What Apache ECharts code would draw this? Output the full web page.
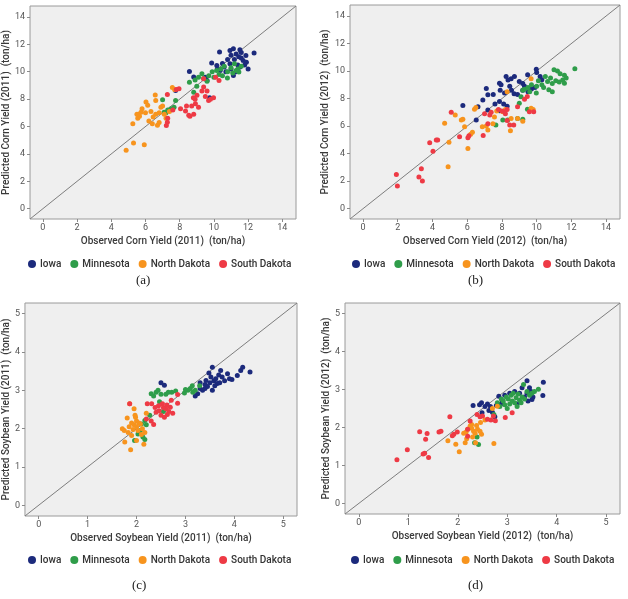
<!DOCTYPE html>
<html><head><meta charset="utf-8">
<script src="https://cdn.jsdelivr.net/npm/echarts@6/dist/echarts.min.js"></script>
<style>html,body{margin:0;padding:0;background:#fff}#c{width:628px;height:599px}</style>
</head><body><div id="c"></div>
<script>
// ---------- data ----------
const states = ['Iowa', 'Minnesota', 'North Dakota', 'South Dakota'];
const cornTicks = [0, 2, 4, 6, 8, 10, 12, 14];
const soyTicks = [0, 1, 2, 3, 4, 5];
const cornRange = [-0.75, 14.8];
const soyRange = [-0.28, 5.28];

// (a) Corn 2011  [observed, predicted]
const corn2011Iowa = [[8.57,10.02],[8.82,9.61],[7.76,8.64],[9.75,8.1],[9.6,9.37],[9.5,9.6],[9.87,10.63],[10.17,10.46],[10.33,11.44],[10.37,10.1],[10.6,10.34],[10.7,10.0],[10.94,10.58],[10.94,11.56],[11.0,11.2],[11.14,11.68],[11.14,9.73],[11.2,10.9],[11.3,11.3],[11.4,10.5],[11.52,11.6],[11.52,10.34],[11.6,11.0],[11.71,10.83],[11.87,11.19],[11.9,10.7],[12.0,10.2],[12.35,11.36],[11.0,10.2],[10.8,10.9],[11.6,11.4],[11.8,10.5],[10.5,10.6],[11.3,10.0],[11.45,11.1],[10.2,10.2]];
const corn2011Minnesota = [[7.0,7.96],[7.09,7.05],[7.3,7.2],[7.67,7.4],[7.76,7.9],[7.5,7.3],[7.2,7.0],[8.57,9.24],[8.82,8.5],[9.0,8.95],[9.1,9.6],[9.3,9.85],[9.4,9.5],[9.7,9.7],[9.9,10.0],[10.0,9.6],[10.16,10.1],[10.4,10.2],[10.6,10.4],[10.8,10.0],[11.0,10.3],[11.2,10.58],[11.4,10.2],[11.1,9.9],[10.79,9.54],[11.46,9.98],[11.6,10.4],[10.3,9.8],[9.6,9.3],[8.9,9.4],[10.5,9.7],[11.3,10.1]];
const corn2011NorthDakota = [[4.87,4.26],[5.3,4.79],[5.93,4.67],[5.26,6.2],[5.55,6.6],[5.65,6.75],[5.74,7.05],[5.6,6.9],[6.03,7.8],[6.13,7.55],[6.57,8.3],[6.6,7.9],[6.32,7.1],[6.45,6.7],[6.8,6.3],[6.7,6.1],[6.4,6.2],[7.1,6.9],[7.4,7.1],[7.57,8.85],[7.7,8.7],[6.9,7.4],[7.2,6.6],[6.0,7.0],[5.8,7.3],[6.2,6.4],[7.0,7.5],[6.8,7.0],[5.5,6.9],[6.6,6.9]];
const corn2011SouthDakota = [[7.28,8.34],[7.8,8.71],[7.96,8.75],[7.28,6.32],[7.22,6.08],[7.3,6.6],[8.05,7.3],[8.34,7.13],[8.53,6.83],[8.82,6.9],[8.6,6.75],[8.92,7.66],[8.7,7.5],[9.01,8.28],[8.9,8.0],[9.4,8.88],[9.3,8.6],[9.6,8.6],[9.69,7.9],[9.98,8.1],[9.8,8.0],[9.4,9.49],[10.3,9.37],[10.1,9.6],[9.1,7.4],[8.8,8.1],[7.6,7.2],[8.4,7.5],[9.5,8.2]];

// (b) Corn 2012
const corn2012Iowa = [[5.75,7.49],[6.52,6.45],[6.62,7.4],[6.9,7.9],[7.1,8.73],[7.19,8.27],[7.19,7.17],[7.5,8.3],[7.6,7.6],[7.86,9.12],[7.95,9.0],[7.9,8.6],[8.15,8.4],[8.24,9.61],[8.35,9.35],[8.53,9.45],[8.72,9.61],[8.45,8.9],[8.55,8.6],[8.7,8.35],[7.86,7.78],[8.1,7.6],[8.3,7.45],[7.86,7.12],[9.0,9.24],[9.2,9.1],[9.3,8.9],[9.48,9.73],[9.98,10.14],[10.0,9.9],[10.3,9.36],[9.7,8.7],[9.9,8.8],[9.5,8.5],[8.9,8.3],[10.2,9.6],[9.2,8.6]];
const corn2012Minnesota = [[7.65,6.08],[8.05,6.45],[8.33,6.45],[8.9,6.55],[9.2,6.49],[9.47,7.22],[9.0,7.66],[9.1,8.14],[9.2,8.6],[9.3,8.68],[9.6,8.5],[9.98,8.4],[10.0,8.9],[10.3,9.0],[10.4,8.8],[10.63,9.24],[10.7,8.64],[10.9,8.5],[11.0,10.1],[11.2,10.0],[11.35,9.8],[11.6,9.7],[11.7,9.5],[11.6,9.12],[12.2,10.16],[11.1,9.3],[11.3,9.2],[10.5,9.6],[10.8,9.5],[10.1,9.3],[9.7,9.0],[9.5,8.8],[11.5,9.35],[10.9,9.1]];
const corn2012NorthDakota = [[4.7,6.2],[4.9,3.04],[4.95,4.83],[5.31,6.81],[5.66,6.45],[5.75,6.5],[5.85,5.96],[6.04,4.37],[6.3,5.56],[6.2,5.4],[6.42,7.22],[6.5,7.35],[6.87,5.96],[7.19,5.71],[7.48,6.18],[7.57,6.66],[7.7,7.1],[8.05,7.04],[8.2,7.2],[8.49,5.67],[8.53,6.56],[8.9,6.56],[9.2,6.36],[9.68,7.3],[9.8,7.2],[9.68,9.44],[7.1,6.0],[8.3,8.5]];
const corn2012SouthDakota = [[1.92,2.48],[1.98,1.65],[3.22,2.31],[3.36,2.91],[3.42,2.02],[3.84,4.79],[4.22,4.99],[4.3,4.99],[4.03,4.18],[5.08,7.0],[5.56,5.22],[6.04,5.16],[6.1,5.3],[6.92,5.31],[7.19,6.18],[7.3,6.8],[7.38,7.0],[8.0,7.1],[8.15,7.05],[8.3,7.2],[8.2,6.9],[8.45,6.08],[8.68,6.08],[8.3,6.4],[8.9,7.4],[9.3,7.95],[9.58,7.05],[9.83,7.05],[9.46,8.15],[7.0,6.9],[7.8,7.2]];

// (c) Soybean 2011
const soy2011Iowa = [[2.5,3.2],[2.57,3.13],[3.2,2.85],[3.25,2.91],[3.3,3.05],[3.35,3.0],[3.4,3.15],[3.42,3.26],[3.45,3.1],[3.5,3.2],[3.55,3.6],[3.48,3.45],[3.52,3.35],[3.58,3.25],[3.62,3.3],[3.65,3.18],[3.7,3.2],[3.72,3.52],[3.75,3.35],[3.8,3.25],[3.86,3.43],[3.9,3.3],[3.95,3.28],[4.06,3.39],[4.13,3.52],[4.17,3.6],[4.32,3.48],[3.6,3.12],[3.4,3.05],[3.3,3.2],[3.55,3.0],[3.68,3.4]];
const soy2011Minnesota = [[1.96,1.69],[2.03,1.86],[2.13,1.78],[2.17,1.72],[2.1,2.12],[2.17,2.21],[2.2,2.1],[2.27,2.35],[2.3,2.91],[2.35,2.85],[2.4,2.95],[2.44,3.0],[2.5,2.9],[2.6,2.9],[2.65,2.95],[2.72,2.95],[2.8,2.98],[2.98,2.93],[3.05,3.0],[3.1,3.05],[3.14,3.12],[3.2,3.0],[3.29,3.12],[3.15,2.95],[2.47,2.7],[2.55,2.45],[2.08,1.95],[3.0,3.02]];
const soy2011NorthDakota = [[1.88,1.45],[1.76,1.65],[1.71,2.0],[1.75,1.95],[1.81,2.28],[1.86,2.65],[1.95,2.52],[1.97,2.35],[2.0,2.2],[1.95,2.1],[2.0,2.05],[2.05,2.15],[2.08,2.12],[2.0,1.69],[2.1,1.85],[2.15,1.59],[2.17,1.9],[1.9,1.82],[1.83,1.9],[1.85,2.05],[1.9,2.15],[1.93,1.98],[2.03,1.95],[2.12,2.0],[1.98,2.3],[2.2,2.4]];
const soy2011SouthDakota = [[1.86,2.65],[2.22,2.65],[2.31,2.65],[2.35,2.11],[2.4,2.43],[2.46,2.47],[2.53,2.65],[2.6,2.52],[2.5,2.35],[2.57,2.3],[2.63,2.37],[2.66,2.45],[2.69,2.56],[2.84,2.66],[2.84,2.89],[2.71,2.74],[2.45,2.6],[2.38,2.55],[2.74,2.4],[2.2,2.25],[2.55,2.55],[2.62,2.62],[2.3,2.2]];

// (d) Soybean 2012
const soy2012Iowa = [[2.31,2.58],[2.44,2.6],[2.48,2.65],[2.55,2.55],[2.6,2.62],[2.63,2.45],[2.66,2.55],[2.49,2.39],[2.7,2.4],[2.75,2.28],[2.83,2.82],[2.87,2.62],[2.95,2.85],[3.05,2.9],[3.15,2.95],[3.25,2.9],[3.3,3.05],[3.4,3.23],[3.45,3.05],[3.4,2.9],[3.48,2.95],[3.52,2.8],[3.5,2.74],[3.73,3.19],[3.72,2.84],[3.42,2.7],[3.2,2.62],[2.9,2.7],[3.35,2.8],[2.78,2.58]];
const soy2012Minnesota = [[2.39,1.75],[2.42,1.55],[2.34,1.6],[2.73,2.34],[2.8,2.65],[2.85,2.55],[2.88,2.75],[2.92,2.7],[2.95,2.6],[2.98,2.8],[3.02,2.75],[3.05,2.62],[3.08,2.85],[3.1,2.7],[3.12,2.9],[3.15,2.65],[3.18,2.78],[3.2,2.55],[3.22,2.88],[3.25,2.72],[3.3,2.8],[3.33,3.13],[3.35,2.75],[3.4,2.95],[3.45,2.85],[3.5,2.9],[3.55,2.95],[3.63,3.01],[3.0,2.5],[3.28,2.65]];
const soy2012NorthDakota = [[1.8,1.65],[1.96,1.56],[2.03,1.36],[2.15,1.6],[2.18,1.7],[2.25,2.04],[2.28,2.08],[2.17,1.88],[2.2,1.95],[2.32,1.9],[2.35,1.85],[2.38,2.05],[2.4,1.95],[2.46,2.13],[2.48,1.82],[2.45,1.9],[2.36,1.6],[2.3,1.75],[2.73,1.58],[2.8,2.56],[2.7,2.5],[2.55,2.2],[2.28,1.98],[2.12,1.85]];
const soy2012SouthDakota = [[0.77,1.15],[0.98,1.41],[1.23,1.89],[1.35,1.69],[1.38,1.84],[1.3,1.3],[1.33,1.32],[1.41,1.21],[1.62,1.88],[1.66,1.9],[1.84,2.28],[1.89,1.78],[1.92,1.82],[1.99,1.88],[2.2,1.77],[2.25,2.17],[2.39,2.34],[2.5,2.3],[2.6,2.22],[2.67,2.2],[2.72,2.3],[2.76,2.18],[2.96,2.26],[3.1,2.39],[2.45,2.28],[2.2,1.95]];

// ---------- layout / styling ----------
const stateColors = ['#1c2a7c', '#2f9d4a', '#f7941e', '#ee3a45'];
const FONT = 'Roboto, "Liberation Sans", sans-serif';
const panels = [
  { cap: '(a)', xName: 'Observed Corn Yield (2011)  (ton/ha)', yName: 'Predicted Corn Yield (2011)  (ton/ha)',
    range: cornRange, ticks: cornTicks, sets: [corn2011Iowa, corn2011Minnesota, corn2011NorthDakota, corn2011SouthDakota],
    grid: { left: 28, top: 6, width: 268, height: 213 }, yGap: 18, legend: { left: 28, top: 259 }, capPos: [144, 282] },
  { cap: '(b)', xName: 'Observed Corn Yield (2012)  (ton/ha)', yName: 'Predicted Corn Yield (2012)  (ton/ha)',
    range: cornRange, ticks: cornTicks, sets: [corn2012Iowa, corn2012Minnesota, corn2012NorthDakota, corn2012SouthDakota],
    grid: { left: 350, top: 5, width: 270, height: 214 }, yGap: 17, legend: { left: 352, top: 259 }, capPos: [476, 282] },
  { cap: '(c)', xName: 'Observed Soybean Yield (2011)  (ton/ha)', yName: 'Predicted Soybean Yield (2011)  (ton/ha)',
    range: soyRange, ticks: soyTicks, sets: [soy2011Iowa, soy2011Minnesota, soy2011NorthDakota, soy2011SouthDakota],
    grid: { left: 23, top: 303, width: 274, height: 213 }, yGap: 13, legend: { left: 28, top: 555 }, capPos: [140, 587] },
  { cap: '(d)', xName: 'Observed Soybean Yield (2012)  (ton/ha)', yName: 'Predicted Soybean Yield (2012)  (ton/ha)',
    range: soyRange, ticks: soyTicks, sets: [soy2012Iowa, soy2012Minnesota, soy2012NorthDakota, soy2012SouthDakota],
    grid: { left: 345, top: 303, width: 275, height: 211 }, yGap: 13, legend: { left: 351, top: 555 }, capPos: [476, 587] }
];

const grids = [], xAxes = [], yAxes = [], series = [], legends = [], graphics = [];
panels.forEach((p, i) => {
  grids.push(Object.assign({ show: true, backgroundColor: '#efefef', borderColor: '#9a9a9a', borderWidth: 1 }, p.grid));
  const axisCommon = (name, gap, isY) => ({
    gridIndex: i, type: 'value', min: p.range[0], max: p.range[1],
    name: name, nameLocation: 'middle', nameGap: gap,
    nameTextStyle: { fontFamily: FONT, fontSize: 10, fontWeight: 500, color: '#3a3a3a' },
    axisLine: { show: false, onZero: false },
    axisTick: { show: true, customValues: p.ticks, length: 3, lineStyle: { color: '#8a8a8a' } },
    axisLabel: { customValues: p.ticks, fontFamily: FONT, fontSize: 9, color: '#555', margin: isY ? 5 : 4 },
    splitLine: { show: false }
  });
  xAxes.push(axisCommon(p.xName, 17, false));
  yAxes.push(axisCommon(p.yName, p.yGap, true));
  series.push({
    type: 'line', xAxisIndex: i, yAxisIndex: i, silent: true, symbol: 'none',
    data: [[p.range[0], p.range[0]], [p.range[1], p.range[1]]],
    lineStyle: { color: '#7d7d7d', width: 1 }, z: 1
  });
  states.forEach((s, k) => {
    series.push({
      type: 'scatter', name: s, xAxisIndex: i, yAxisIndex: i,
      data: p.sets[k], symbolSize: 5, itemStyle: { color: stateColors[k], opacity: 1 }, z: 2
    });
  });
  legends.push({
    data: states, left: p.legend.left, top: p.legend.top, icon: 'circle',
    itemWidth: 8, itemHeight: 8, itemGap: 9, padding: 0,
    textStyle: { fontFamily: FONT, fontSize: 10, fontWeight: 500, color: '#333', padding: [0, 0, 0, -1] }
  });
  graphics.push({
    type: 'text', left: p.capPos[0] - 8, top: p.capPos[1] - 8,
    style: { text: p.cap, font: '13px "Liberation Serif", "DejaVu Serif", serif', fill: '#222' }
  });
});

const chart = echarts.init(document.getElementById('c'), null, { renderer: 'canvas' });
chart.setOption({
  animation: false,
  color: stateColors,
  grid: grids, xAxis: xAxes, yAxis: yAxes, series: series, legend: legends, graphic: graphics
});
</script></body></html>
